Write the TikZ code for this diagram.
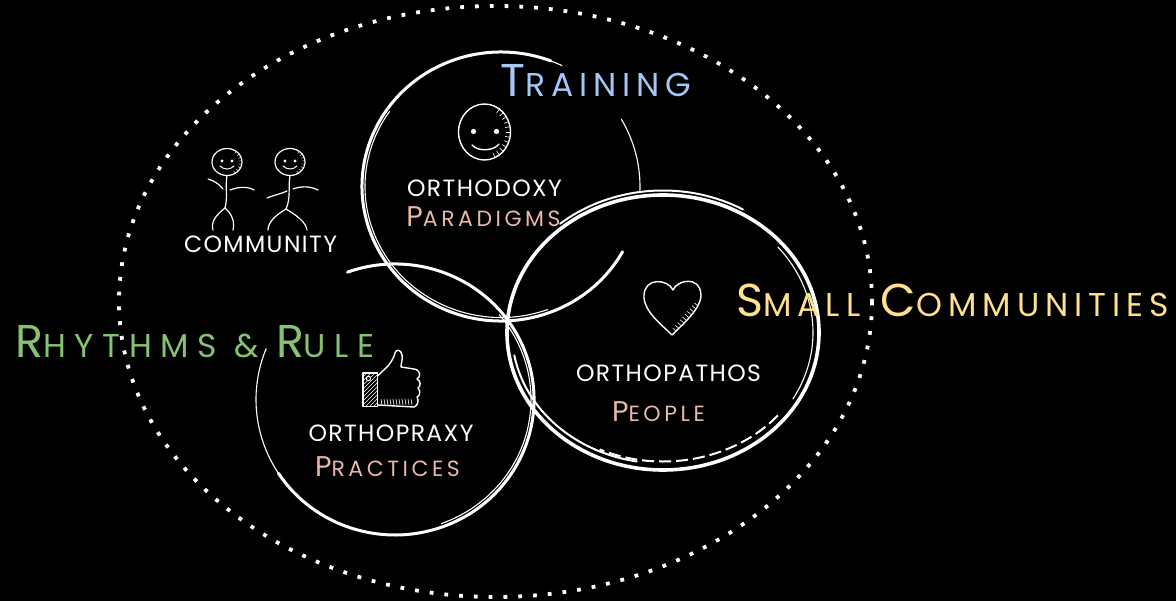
\documentclass[tikz,border=0pt]{standalone}
\usepackage{fontspec}
\setmainfont{Poppins}
\newfontfamily\titlefont[LetterSpace=18]{Poppins}
\newfontfamily\widetitlefont[LetterSpace=26]{Poppins}
\newfontfamily\labelfont[LetterSpace=6]{Poppins}
\newfontfamily\rolefont[LetterSpace=16]{Poppins}
\newcommand{\lowcaps}[2]{{\fontsize{#1}{#1}\selectfont #2}}

\definecolor{trainblue}{HTML}{A6C6F7}
\definecolor{smallyellow}{HTML}{FFE08C}
\definecolor{rhythmgreen}{HTML}{86C271}
\definecolor{rolepink}{HTML}{E9B8AB}

\begin{document}
\begin{tikzpicture}[x=1pt,y=-1pt]
	\tikzset{
		sketch/.style = {draw=white, line width=3pt, line cap=round},
		thinsketch/.style = {draw=white, line width=1.1pt, line cap=round},
		dots/.style = {draw=white, line width=3.8pt, dash pattern=on 3.8pt off 11pt},
		icon/.style = {draw=white, line width=1.4pt, line cap=round, line join=round},
		hatch/.style = {draw=white, line width=0.6pt},
		title/.style = {anchor=base, inner sep=0pt,
			font=\titlefont\fontsize{46}{46}\selectfont},
		ortho/.style = {anchor=base, inner sep=0pt, text=white,
			font=\labelfont\fontsize{23.5}{23.5}\selectfont},
		role/.style = {anchor=base, inner sep=0pt, text=rolepink,
			font=\rolefont\fontsize{28.5}{28.5}\selectfont}}
\useasboundingbox (0,0) rectangle (1176,601);
\fill[black] (0,0) rectangle (1176,601);

\coordinate (outer) at (495.5,301.5);
\coordinate (doxy) at (501,186.5);
\coordinate (praxy) at (395,399.5);
\coordinate (pathos) at (663,332.5);

% dotted community ellipse
\draw[dots] (outer) ellipse [x radius=376.5, y radius=295.5];

% training circle
\draw[sketch] (doxy) ++(29:139 and 134.5) arc [start angle=29, end angle=291, x radius=139, y radius=134.5];
\draw[thinsketch] (doxy) ++(-30:139 and 134.5) arc [start angle=-30, end angle=2, x radius=139, y radius=134.5];
\draw[thinsketch] (doxy) ++(70:136 and 131) arc [start angle=70, end angle=215, x radius=136, y radius=131];
\draw[thinsketch] (doxy) ++(285:139 and 134.5) arc [start angle=285, end angle=296, x radius=139, y radius=134.5];

% rhythms circle
\draw[sketch] (praxy) ++(-110:139 and 135.5) arc [start angle=-110, end angle=147, x radius=139, y radius=135.5];
\draw[thinsketch] (praxy) ++(147:139 and 135.5) arc [start angle=147, end angle=202, x radius=139, y radius=135.5];
\draw[thinsketch] (praxy) ++(-40:136 and 132) arc [start angle=-40, end angle=70, x radius=136, y radius=132];

% small communities circle
\draw[sketch, line width=3.6pt] (pathos) ++(0:156 and 137.5) arc [start angle=0, end angle=360, x radius=156, y radius=137.5];
\draw[sketch, line width=2pt] (pathos) ++(100:151 and 131) arc [start angle=100, end angle=170, x radius=151, y radius=131];
\draw[white, line width=2pt, dash pattern=on 12pt off 5pt] (pathos) ++(40:150 and 129) arc [start angle=40, end angle=115, x radius=150, y radius=129];
\draw[sketch, line width=2pt] (pathos) ++(230:160 and 142) arc [start angle=230, end angle=300, x radius=160, y radius=142];
\draw[thinsketch] (pathos) ++(-40:150 and 133) arc [start angle=-40, end angle=30, x radius=150, y radius=133];

% smiley
\draw[icon] (484.5,132) circle [x radius=26, y radius=28];
\fill[white] (473.5,131.5) circle [radius=2.6] (496.5,131.5) circle [radius=2.6];
\draw[icon] (472,145) .. controls (478,152) and (494,151) .. (499,144);
\foreach \a in {-55,-44,...,70}
	\draw[hatch] (484.5,132) ++(\a:21 and 23) -- ++(\a:5 and 5);

% two stick people
\foreach \hx/\hy in {227/162, 290/162} {
	\draw[icon, line width=1.2pt] (\hx,\hy) circle [x radius=15, y radius=13.5];
	\fill[white] (\hx-5,\hy-1) circle [radius=1.6] (\hx+5,\hy-1) circle [radius=1.6];
	\draw[icon, line width=1pt] (\hx-7,\hy+4) .. controls (\hx-3,\hy+8) and (\hx+3,\hy+8) .. (\hx+7,\hy+4);
	\foreach \a in {-50,-35,...,60}
		\draw[hatch, line width=0.4pt] (\hx,\hy) ++(\a:12 and 11) -- ++(\a:3 and 3);
}
\draw[icon, line width=1.2pt] (227,175.5) .. controls (225,187) and (228,197) .. (225,208);
\draw[icon, line width=1.2pt] (208,179) .. controls (215,181) and (220,185) .. (223,189);
\draw[icon, line width=1.2pt] (230,190) .. controls (238,187) and (247,186) .. (254,190);
\draw[icon, line width=1.2pt] (225,208) .. controls (215,216) and (211,222) .. (213,230);
\draw[icon, line width=1.2pt] (225,208) .. controls (232,214) and (235,222) .. (233,230);
\draw[icon, line width=1.2pt] (290,175.5) .. controls (288,187) and (291,198) .. (286,209);
\draw[icon, line width=1.2pt] (267,198) .. controls (274,195) and (281,194) .. (287,191);
\draw[icon, line width=1.2pt] (293,189) .. controls (301,186) and (310,186) .. (318,190);
\draw[icon, line width=1.2pt] (286,209) .. controls (276,215) and (268,222) .. (268,230);
\draw[icon, line width=1.2pt] (286,209) .. controls (296,215) and (306,222) .. (307,230);

% heart
\draw[icon] (673,290) .. controls (677,280) and (700,275) .. (701,295)
	.. controls (701,309) and (682,325) .. (672,335)
	.. controls (662,325) and (643,311) .. (644,295)
	.. controls (645,277) and (668,279) .. (673,290) -- cycle;
\foreach \t in {0,...,9}
	\draw[hatch] ({698-2.4*\t},{306+2.8*\t}) -- ++(-3.5,-3);

% thumbs up
\draw[icon] (363,373) rectangle (377.5,406.5);
\begin{scope}
	\clip (363,373) rectangle (377.5,406.5);
	\foreach \d in {0,4,...,48}
		\draw[hatch] (363,373+\d) -- ++(15,-15);
\end{scope}
\fill[black] (368.5,378.5) circle [radius=2.4];
\draw[icon, line width=1pt] (368.5,378.5) circle [radius=2.2];
\draw[icon] (377.5,376) -- (388,366) .. controls (392,361) and (394,357) .. (395,353)
	.. controls (396,349) and (401,349) .. (402,355)
	.. controls (403,359) and (401,363) .. (401,367)
	-- (414,369) .. controls (421,370) and (421,377) .. (417,379)
	.. controls (421,381) and (421,386) .. (418,388)
	.. controls (421,391) and (420,396) .. (417,397)
	.. controls (419,400) and (418,406) .. (414,407)
	-- (377.5,405);
\foreach \x in {381,384,...,411}
	\draw[hatch] (\x,399) -- ++(1,6);

% labels
\node[title, text=trainblue] (training) at (596,97) {T\lowcaps{33}{RAINING}};
\node[title, text=smallyellow] (smallcom) at (952.5,317) {S\lowcaps{33}{MALL} C\lowcaps{33}{OMMUNITIES}};
\node[title, text=rhythmgreen, font=\widetitlefont\fontsize{46}{46}\selectfont] (rhythms) at (195,358) {R\lowcaps{33}{HYTHMS \& }R\lowcaps{33}{ULE}};

\node[ortho] (community) at (260.5,253) {COMMUNITY};
\node[ortho] (orthodoxy) at (484.5,197) {ORTHODOXY};
\node[ortho] (orthopathos) at (668.5,382) {ORTHOPATHOS};
\node[ortho] (orthopraxy) at (391,442) {ORTHOPRAXY};

\node[role] (paradigms) at (483.5,227) {P\lowcaps{22}{ARADIGMS}};
\node[role] (people) at (658.5,422) {P\lowcaps{22}{EOPLE}};
\node[role] (practices) at (387.5,477) {P\lowcaps{22}{RACTICES}};

\end{tikzpicture}
\end{document}
